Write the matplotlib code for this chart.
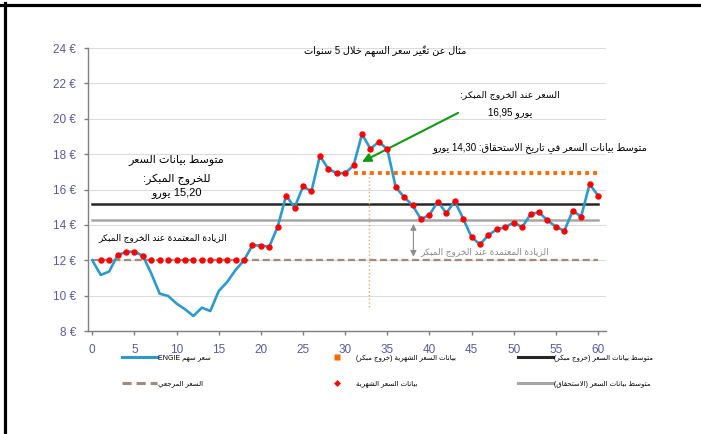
import re
import numpy as np
import matplotlib
matplotlib.use("Agg")
import matplotlib.pyplot as plt
from matplotlib.lines import Line2D

plt.rcParams['font.family'] = ['Liberation Sans', 'DejaVu Sans']

# ---- data ----
months = np.arange(61)
price = [12.0, 11.17, 11.36, 12.28, 12.47, 12.49, 12.25, 11.25, 10.11, 9.98,
         9.55, 9.23, 8.85, 9.32, 9.13, 10.26, 10.77, 11.45, 12.0, 12.85,
         12.83, 12.77, 13.9, 15.66, 14.98, 16.17, 15.9, 17.9, 17.17, 16.92,
         16.92, 17.36, 19.13, 18.3, 18.7, 18.28, 16.13, 15.57, 15.1, 14.32,
         14.57, 15.32, 14.66, 15.34, 14.36, 13.3, 12.9, 13.42, 13.75, 13.87,
         14.13, 13.87, 14.6, 14.72, 14.25, 13.9, 13.66, 14.79, 14.47, 16.3,
         15.66]
obs_months = np.arange(1, 61)
obs_vals = [12.0, 12.0, 12.28, 12.47, 12.49, 12.25, 12.0, 12.0, 12.0, 12.0,
            12.0, 12.0, 12.0, 12.0, 12.0, 12.0, 12.0, 12.0, 12.85, 12.83,
            12.77, 13.9, 15.66, 14.98, 16.17, 15.9, 17.9, 17.17, 16.92, 16.92,
            17.36, 19.13, 18.3, 18.7, 18.28, 16.13, 15.57, 15.1, 14.32, 14.57,
            15.32, 14.66, 15.34, 14.36, 13.3, 12.9, 13.42, 13.75, 13.87, 14.13,
            13.87, 14.6, 14.72, 14.25, 13.9, 13.66, 14.79, 14.47, 16.3, 15.66]
exit_months = np.arange(31, 61)
exit_price = 16.95
ref_price = 12.0
avg_exit = 15.20
avg_maturity = 14.30
exit_month = 32.85
yticks = [8, 10, 12, 14, 16, 18, 20, 22, 24]
xticks = [0, 5, 10, 15, 20, 25, 30, 35, 40, 45, 50, 55, 60]

# ---- minimal arabic shaping (matplotlib has no complex text layout) ----
_FORMS = {'\u0621': (0xFE80, 1), '\u0622': (0xFE81, 2), '\u0623': (0xFE83, 2),
          '\u0624': (0xFE85, 2), '\u0625': (0xFE87, 2), '\u0626': (0xFE89, 4),
          '\u0627': (0xFE8D, 2), '\u0628': (0xFE8F, 4), '\u0629': (0xFE93, 2),
          '\u062A': (0xFE95, 4), '\u062B': (0xFE99, 4), '\u062C': (0xFE9D, 4),
          '\u062D': (0xFEA1, 4), '\u062E': (0xFEA5, 4), '\u062F': (0xFEA9, 2),
          '\u0630': (0xFEAB, 2), '\u0631': (0xFEAD, 2), '\u0632': (0xFEAF, 2),
          '\u0633': (0xFEB1, 4), '\u0634': (0xFEB5, 4), '\u0635': (0xFEB9, 4),
          '\u0636': (0xFEBD, 4), '\u0637': (0xFEC1, 4), '\u0638': (0xFEC5, 4),
          '\u0639': (0xFEC9, 4), '\u063A': (0xFECD, 4), '\u0641': (0xFED1, 4),
          '\u0642': (0xFED5, 4), '\u0643': (0xFED9, 4), '\u0644': (0xFEDD, 4),
          '\u0645': (0xFEE1, 4), '\u0646': (0xFEE5, 4), '\u0647': (0xFEE9, 4),
          '\u0648': (0xFEED, 2), '\u0649': (0xFEEF, 2), '\u064A': (0xFEF1, 4)}
_LAM_ALEF = {'\u0622': 0xFEF5, '\u0623': 0xFEF7, '\u0625': 0xFEF9, '\u0627': 0xFEFB}
_MIRROR = {'(': ')', ')': '('}
_LTR = r'([0-9A-Za-z]+(?:[.,][0-9]+)*)'


def _shape(word):
    items = []
    i = 0
    while i < len(word):
        c = word[i]
        if '\u064b' <= c <= '\u0652' and items:
            items[-1][3] += c
        elif c == '\u0644' and i + 1 < len(word) and word[i + 1] in _LAM_ALEF:
            items.append([_LAM_ALEF[word[i + 1]], 2, None, ''])
            i += 1
        elif c in _FORMS:
            b, n = _FORMS[c]
            items.append([b, n, None, ''])
        else:
            items.append([None, 0, c, ''])
        i += 1
    res = []
    for k, (b, n, plain, marks) in enumerate(items):
        if b is None:
            res.append(plain + marks)
            continue
        prev_ok = k > 0 and items[k - 1][1] == 4
        next_ok = n == 4 and k + 1 < len(items) and items[k + 1][1] >= 2
        form = 0
        if n > 1:
            if prev_ok and next_ok:
                form = 3
            elif prev_ok:
                form = 1
            elif next_ok:
                form = 2
        res.append(chr(b + form) + marks)
    return res


def ar(s, ltr=False):
    # shape + reorder to visual order; ltr=True keeps word order (LTR paragraph)
    if ltr:
        return ' '.join(ar(w) for w in s.split(' '))
    parts = re.split(_LTR, s)
    runs = []
    for k, p in enumerate(parts):
        if not p:
            continue
        if k % 2 == 1:
            runs.append(p)
        else:
            cl = _shape(p)
            runs.append(''.join(_MIRROR.get(c, c) for c in reversed(cl)))
    return ''.join(runs[::-1])


# ---- figure ----
fig = plt.figure(figsize=(7.01, 4.34), dpi=100)
ax = fig.add_axes([0.126, 0.2373, 0.7385, 0.6521])

tick_col = '#5A5A9C'
ax.set_xlim(-0.47, 60.95)
ax.set_ylim(8, 24)
ax.set_yticks(yticks)
ax.set_yticklabels([f'{v} €' for v in yticks])
ax.set_xticks(xticks)
ax.grid(axis='y', color='#DCDCDC', lw=0.8)
ax.set_axisbelow(True)
for s in ['top', 'right']:
    ax.spines[s].set_visible(False)
for s in ['left', 'bottom']:
    ax.spines[s].set_color('#7F7F7F')
    ax.spines[s].set_linewidth(1.0)
ax.tick_params(axis='both', colors='#7F7F7F', length=3, width=1.0,
               labelcolor=tick_col, labelsize=8.5, pad=6)

ax.plot(months, [ref_price] * len(months), color='#A08C7C', lw=1.6,
        dashes=(3.2, 1.6))
ax.plot(months, [avg_maturity] * len(months), color='#A6A6A6', lw=1.8)
ax.plot(months, [avg_exit] * len(months), color='#262626', lw=1.8)
ax.plot(exit_months, [exit_price] * len(exit_months), color='#FF6A00',
        lw=2.8, dashes=(1, 1.05), solid_capstyle='butt', dash_capstyle='butt')
ax.plot([exit_month, exit_month], [exit_price, 9.3], color='#F4A070', lw=1.0, ls=':')
ax.plot(months, price, color='#2C9ACB', lw=1.9, zorder=3)
ax.plot(obs_months, obs_vals, ls='none', marker='o', ms=4.6,
        color='#FF0000', mec='none', zorder=4)

# annotations
ax.annotate('', xy=(32.0, 17.56), xytext=(43.4, 20.33),
            arrowprops=dict(arrowstyle='-|>', color='#119911', lw=1.5,
                            mutation_scale=13, shrinkA=0, shrinkB=0))
ax.annotate('', xy=(38.1, 12.2), xytext=(38.1, 14.05),
            arrowprops=dict(arrowstyle='<|-|>', color='#8C8C8C', lw=0.8,
                            mutation_scale=9, shrinkA=0, shrinkB=0))

ax.text(34.8, 23.8, ar('مثال عن تغيّر سعر السهم خلال 5 سنوات'), ha='center',
        va='center', fontsize=7)
ax.text(10.0, 17.67, ar('متوسط بيانات السعر'), ha='center', va='center', fontsize=8)
ax.text(10.0, 16.58, ar('للخروج المبكر:'), ha='center', va='center', fontsize=8)
ax.text(10.0, 15.82, ar('15,20 يورو'), ha='center', va='center', fontsize=8)
ax.text(8.4, 13.28, ar('الزيادة المعتمدة عند الخروج المبكر'), ha='center',
        va='center', fontsize=6.5)
ax.text(46.6, 12.47, ar('الزيادة المعتمدة عند الخروج المبكر'), ha='center',
        va='center', fontsize=6.5, color='#8C8C8C')
ax.text(49.6, 21.34, ar('السعر عند الخروج المبكر:'), ha='center', va='center',
        fontsize=6.8)
ax.text(49.6, 20.38, ar('16,95 يورو', ltr=True), ha='center', va='center', fontsize=7)
ax.text(53.1, 18.4, ar('متوسط بيانات السعر في تاريخ الاستحقاق: 14,30 يورو'),
        ha='center', va='center', fontsize=7, clip_on=False)

# legend in three columns
leg_kw = dict(loc='center left', frameon=False, fontsize=5, handlelength=5.0,
              handletextpad=0.15, labelspacing=2.7, borderpad=0, borderaxespad=0)
h_price = Line2D([], [], color='#2C9ACB', lw=2.2)
h_ref = Line2D([], [], color='#A08C7C', lw=2.2, dashes=(3, 1.6))
h_exit = Line2D([], [], ls='none', marker='s', ms=4, color='#FF6A00', mec='none')
h_obs = Line2D([], [], ls='none', marker='D', ms=3.5, color='#FF0000', mec='none')
h_avg = Line2D([], [], color='#262626', lw=2.2)
h_mat = Line2D([], [], color='#A6A6A6', lw=2.2)
y_leg = 1 - 371 / 434
fig.legend([h_price, h_ref], [ar('سعر سهم ENGIE'), ar('السعر المرجعي')],
           bbox_to_anchor=(122 / 701, y_leg), **leg_kw)
fig.legend([h_exit, h_obs], [ar('بيانات السعر الشهرية (خروج مبكر)'),
                             ar('بيانات السعر الشهرية')],
           bbox_to_anchor=(320 / 701, y_leg), **leg_kw)
fig.legend([h_avg, h_mat], [ar('متوسط بيانات السعر (خروج مبكر)'),
                            ar('متوسط بيانات السعر (الاستحقاق)')],
           bbox_to_anchor=(518 / 701, y_leg), **leg_kw)

# frame lines at top and left
fig.add_artist(Line2D([0, 1], [1 - 4.5 / 434] * 2, transform=fig.transFigure,
                      color='black', lw=2.3))
fig.add_artist(Line2D([4.5 / 701] * 2, [0, 1 - 3 / 434], transform=fig.transFigure,
                      color='black', lw=2.3))

fig.savefig('out.png', dpi=100)
